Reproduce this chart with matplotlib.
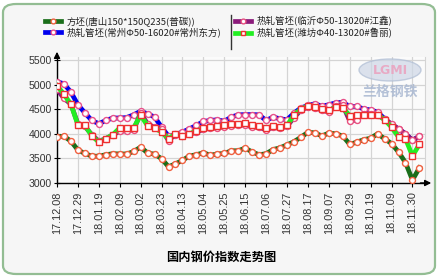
import matplotlib
matplotlib.use("Agg")
import matplotlib.pyplot as plt
from matplotlib.patches import FancyBboxPatch, Ellipse
from matplotlib.lines import Line2D
import numpy as np

plt.rcParams['font.family'] = ['Noto Sans CJK SC', 'DejaVu Sans']

# ---- data (weekly, 17.12.08 .. 18.12.07) ----
tick_labels = ["17.12.08", "17.12.29", "18.01.19", "18.02.09", "18.03.02", "18.03.23",
               "18.04.13", "18.05.04", "18.05.25", "18.06.15", "18.07.06", "18.07.27",
               "18.08.17", "18.09.07", "18.09.29", "18.10.19", "18.11.09", "18.11.30"]

billet_tangshan = [3940, 3950, 3850, 3670, 3600, 3545, 3545, 3575, 3595, 3590, 3590, 3640,
                   3730, 3610, 3585, 3495, 3330, 3390, 3460, 3550, 3575, 3615, 3565, 3590,
                   3600, 3655, 3655, 3710, 3630, 3575, 3595, 3680, 3715, 3775, 3840, 3930,
                   4030, 4020, 3955, 4015, 4000, 3955, 3785, 3830, 3880, 3910, 4000, 3900,
                   3800, 3630, 3415, 3060, 3310]
tube_changzhou = [5060, 5015, 4845, 4590, 4425, 4270, 4205, 4270, 4320, 4320, 4330, 4385,
                  4460, 4405, 4340, 4135, 3950, 3985, 4035, 4100, 4170, 4250, 4270, 4285,
                  4255, 4340, 4385, 4390, 4390, 4385, 4270, 4340, 4305, 4285, 4420, 4525,
                  4575, 4610, 4560, 4590, 4630, 4640, 4555, 4555, 4505, 4485, 4440, 4305,
                  4170, 4100, 4000, 3865, 3950]
tube_linyi = [4900, 4720, 4600, 4200, 4150, 3980, 3850, 3900, 3980, 4050, 4060, 4080,
              4420, 4200, 4130, 4090, 3860, 3990, 3950, 3990, 4030, 4090, 4110, 4120,
              4140, 4160, 4170, 4180, 4140, 4130, 4080, 4130, 4110, 4150, 4330, 4480,
              4540, 4530, 4480, 4440, 4560, 4580, 4260, 4280, 4400, 4400, 4380, 4300,
              4200, 4100, 4000, 3870, 3950]
tube_weifang = [4980, 4800, 4600, 4180, 4170, 3960, 3830, 3900, 3980, 4120, 4120, 4120,
                4380, 4160, 4110, 4040, 3900, 4000, 3950, 4000, 4050, 4115, 4135, 4150,
                4170, 4190, 4205, 4215, 4170, 4155, 4115, 4155, 4135, 4170, 4380, 4505,
                4560, 4540, 4505, 4475, 4540, 4525, 4370, 4385, 4385, 4385, 4385, 4285,
                4135, 3935, 3900, 3550, 3785]

labels = ["方坯(唐山150*150Q235(普碳))",
          "热轧管坯(常州Φ50-16020#常州东方)",
          "热轧管坯(临沂Φ50-13020#江鑫)",
          "热轧管坯(潍坊Φ40-13020#鲁丽)"]

W, H = 441, 277
fig = plt.figure(figsize=(W / 100, H / 100), dpi=100)
fig.patch.set_facecolor('white')

# rounded frame
frame = FancyBboxPatch((3 / W, 3 / H), 432 / W, 270 / H,
                       boxstyle="round,pad=0,rounding_size=0.03",
                       transform=fig.transFigure, facecolor='#f6f6f6',
                       edgecolor='#93bd93', linewidth=1.6, zorder=-10)
fig.patches.append(frame)

def px(x0, y0, x1, y1):
    return [x0 / W, 1 - y1 / H, (x1 - x0) / W, (y1 - y0) / H]

ax = fig.add_axes(px(57, 57, 425, 183))
ax.set_zorder(1)
ax.set_facecolor('#fbfbfb')

x = np.arange(len(billet_tangshan))

l_cz, = ax.plot(x, tube_changzhou, color='#0000ee', lw=3.4, marker='o', ms=4.3,
                mfc='white', mec='#e8508a', mew=1.0, zorder=3)
l_ly, = ax.plot(x, tube_linyi, color='#8a1a7a', lw=3.4, marker='o', ms=4.3,
                mfc='white', mec='#e85080', mew=1.0, zorder=4)
l_wf, = ax.plot(x, tube_weifang, color='#22ee22', lw=3.4, marker='s', ms=4.3,
                mfc='white', mec='#ee3030', mew=1.0, zorder=5)
l_ts, = ax.plot(x, billet_tangshan, color='#1a6e1a', lw=3.4, marker='o', ms=4.3,
                mfc='white', mec='#f06040', mew=1.0, zorder=6)

ax.set_xlim(0, 52.8)
ax.set_ylim(3000, 5560)
ax.set_yticks([3000, 3500, 4000, 4500, 5000, 5500])
ax.set_xticks(np.arange(0, 52, 3))
ax.set_xticklabels(tick_labels, rotation=90, family=['Liberation Sans'], fontsize=7.8,
                   color='#333333')
for t in ax.get_yticklabels():
    t.set_family(['Liberation Sans'])
    t.set_fontsize(7.6)
    t.set_color('#333333')
ax.tick_params(axis='x', direction='out', length=3, width=0.8, pad=3)
ax.tick_params(axis='y', direction='inout', length=5, width=0.8, pad=1)
ax.grid(True, color='#d4d4d4', lw=0.9, zorder=0)
ax.set_axisbelow(True)
ax.spines['top'].set_visible(False)
ax.spines['right'].set_color('#d4d4d4')
ax.spines['left'].set_color('black')
ax.spines['bottom'].set_color('black')
ax.spines['left'].set_linewidth(1.0)
ax.spines['bottom'].set_linewidth(1.0)

# axis arrows
ax.annotate('', xy=(0, (183 - 49) / 126), xycoords='axes fraction', xytext=(0, 0.98),
            arrowprops=dict(arrowstyle='-|>', color='black', lw=1.0, mutation_scale=9),
            annotation_clip=False)
ax.annotate('', xy=((434 - 57) / 368, 0), xycoords='axes fraction', xytext=(0.98, 0),
            arrowprops=dict(arrowstyle='-|>', color='black', lw=1.0, mutation_scale=9),
            annotation_clip=False)

# watermark logo (behind the lines)
logo = Ellipse((390 / W, 1 - 70 / H), 62 / W, 22 / H, transform=fig.transFigure,
               facecolor='#ced7e6', edgecolor='#aebcd3', lw=1, alpha=0.7, zorder=1)
ax.add_patch(logo)
ax.text(390 / W, 1 - 70 / H, "LGMI", ha='center', va='center', fontsize=9,
        fontweight='bold', color='#eaa4c0', family=['DejaVu Sans'], alpha=0.9,
        transform=fig.transFigure, zorder=1.5)
ax.text(390 / W, 1 - 92 / H, "兰格钢铁", ha='center', va='center', fontsize=10,
        fontweight='bold', color='#a8b7d1', alpha=0.85, transform=fig.transFigure, zorder=1.5)

# legend
leg = fig.legend([l_ts, l_cz, l_ly, l_wf], labels, ncol=2, loc='upper left',
                 bbox_to_anchor=(45 / W, 1 - 16 / H), frameon=False, fontsize=6.8,
                 handlelength=1.7, handletextpad=0.6, columnspacing=1.4,
                 labelspacing=0.18, borderaxespad=0, borderpad=0, markerscale=0.8)
for t in leg.get_texts():
    t.set_color('#222222')
fig.add_artist(Line2D([231 / W, 231 / W], [1 - 15 / H, 1 - 49 / H], color='#333333', lw=1.0))

# title
fig.text(221 / W, 1 - 257 / H, "国内钢价指数走势图", ha='center', va='center',
         fontsize=8.8, fontweight='bold', color='black')

fig.savefig('out.png', dpi=100, facecolor='white')
